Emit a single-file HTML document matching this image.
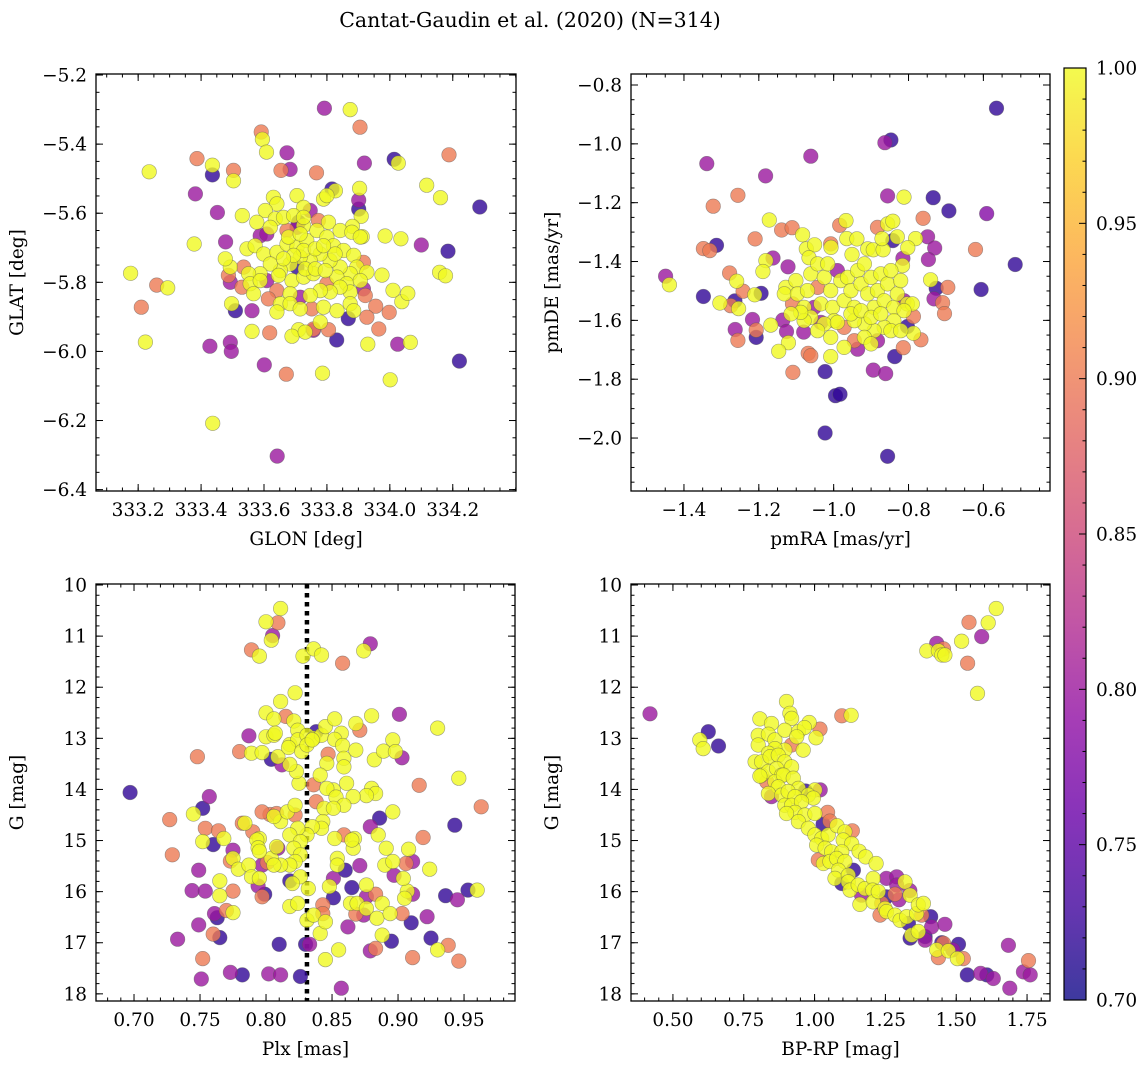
<!DOCTYPE html>
<html><head><meta charset="utf-8"><style>
html,body{margin:0;padding:0;background:#fff;}
svg{display:block;font-family:"DejaVu Serif","Liberation Serif",serif;}
</style></head><body>
<svg id="fig" width="1148" height="1068" viewBox="0 0 1148 1068" xmlns="http://www.w3.org/2000/svg">
<defs>
<linearGradient id="cbgrad" x1="0" y1="1" x2="0" y2="0">
<stop offset="0" stop-color="#0d0887"/><stop offset="0.1" stop-color="#41049d"/><stop offset="0.2" stop-color="#6a00a8"/><stop offset="0.3" stop-color="#8f0da4"/><stop offset="0.4" stop-color="#b12a90"/><stop offset="0.5" stop-color="#cc4778"/><stop offset="0.6" stop-color="#e16462"/><stop offset="0.7" stop-color="#f2844b"/><stop offset="0.8" stop-color="#fca636"/><stop offset="0.9" stop-color="#fcce25"/><stop offset="1" stop-color="#f0f921"/>
</linearGradient>
</defs>
<text x="530" y="27" font-size="20.5" text-anchor="middle">Cantat-Gaudin et al. (2020) (N=314)</text>
</svg>
<script>
// ---------- Panel 1: GLON / GLAT ----------
const glon=[333.792,333.874,333.905,333.591,333.595,333.608,333.673,333.387,333.436,333.436,333.503,333.503,333.235,333.382,333.452,333.531,333.478,333.378,333.176,333.259,333.294,333.210,333.223,333.428,333.493,333.496,333.509,333.497,333.562,333.562,333.618,333.601,333.671,333.786,334.001,333.437,333.642,334.221,334.025,334.065,333.930,333.965,333.831,333.868,333.998,333.955,334.038,334.057,334.010,333.975,334.158,334.177,334.185,334.100,334.035,333.985,334.286,334.161,334.117,334.188,334.014,334.027,333.919,333.767,333.654,333.683,333.904,333.816,333.827,333.901,333.901,333.909,333.912,333.881,
333.630,333.641,333.705,333.726,333.789,333.800,333.604,333.577,333.636,333.662,333.694,333.726,333.747,333.773,333.805,333.842,333.879,333.906,333.673,333.588,333.609,333.620,333.546,333.572,333.599,333.641,333.673,333.705,333.736,333.768,333.800,333.821,333.853,333.885,333.916,333.895,333.927,333.874,333.842,333.810,333.779,333.747,333.715,333.683,333.652,333.620,333.588,333.551,333.535,333.493,333.477,333.487,333.493,333.530,333.556,333.588,333.609,333.646,333.689,333.726,333.757,333.800,333.832,333.863,333.906,333.916,333.922,333.874,333.842,333.810,333.779,333.747,333.715,333.683,333.641,333.614,333.567,333.652,333.683,333.715,333.752,333.789,333.832,333.874,333.885,333.927,333.641,333.779,333.805,333.757,333.710,333.689,333.731,333.757,333.705,333.731,333.763,333.795,333.826,333.726,333.694,333.662,333.763,333.789,333.678,333.715,333.705,333.710,333.726];
const glat=[-5.296,-5.300,-5.351,-5.365,-5.386,-5.423,-5.425,-5.442,-5.461,-5.489,-5.476,-5.506,-5.480,-5.544,-5.598,-5.607,-5.683,-5.689,-5.774,-5.808,-5.816,-5.872,-5.973,-5.985,-5.974,-6.000,-5.882,-5.862,-5.882,-5.942,-5.946,-6.039,-6.066,-6.063,-6.082,-6.208,-6.303,-6.028,-5.979,-5.974,-5.979,-5.935,-5.967,-5.905,-5.887,-5.869,-5.856,-5.832,-5.823,-5.779,-5.771,-5.781,-5.710,-5.692,-5.674,-5.666,-5.582,-5.555,-5.519,-5.431,-5.444,-5.455,-5.455,-5.483,-5.476,-5.473,-5.528,-5.530,-5.535,-5.562,-5.588,-5.609,-5.668,-5.638,
-5.554,-5.573,-5.549,-5.583,-5.559,-5.549,-5.592,-5.626,-5.616,-5.612,-5.607,-5.636,-5.592,-5.621,-5.626,-5.650,-5.655,-5.669,-5.650,-5.665,-5.660,-5.641,-5.703,-5.694,-5.718,-5.713,-5.689,-5.698,-5.679,-5.650,-5.669,-5.694,-5.708,-5.722,-5.742,-5.756,-5.771,-5.775,-5.756,-5.737,-5.718,-5.737,-5.727,-5.747,-5.766,-5.747,-5.775,-5.775,-5.756,-5.756,-5.732,-5.780,-5.800,-5.814,-5.804,-5.795,-5.795,-5.780,-5.795,-5.785,-5.775,-5.804,-5.785,-5.804,-5.795,-5.819,-5.838,-5.828,-5.814,-5.828,-5.824,-5.838,-5.843,-5.833,-5.824,-5.848,-5.833,-5.862,-5.862,-5.877,-5.877,-5.872,-5.882,-5.862,-5.882,-5.901,-5.886,-5.915,-5.937,-5.935,-5.937,-5.956,-5.944,-5.939,-5.756,-5.761,-5.761,-5.766,-5.718,-5.708,-5.722,-5.732,-5.703,-5.694,-5.669,-5.660,-5.641,-5.626,-5.612];
const prob1=[0.8,1,0.9,0.9,1,1,0.8,0.9,1,0.72,0.9,1,1,0.8,0.8,1,0.8,1,1,0.9,1,0.9,1,0.8,0.8,0.8,0.72,1,0.8,1,0.9,0.8,0.9,1,1,1,0.8,0.72,0.8,1,1,0.9,0.72,0.72,0.9,0.9,1,1,1,1,1,1,0.72,0.8,1,1,0.72,1,1,0.9,0.72,1,0.8,0.9,0.9,0.8,1,0.72,1,0.8,0.72,1,1,1,
1,1,1,1,1,1,1,1,1,1,1,1,0.8,0.9,1,1,1,1,0.9,0.8,0.8,1,1,1,1,1,1,1,1,1,1,1,1,1,0.9,1,1,1,1,1,1,1,1,1,1,1,1,1,0.9,1,1,0.9,0.8,0.9,1,1,0.8,1,1,1,1,0.9,1,1,1,0.8,0.9,1,1,1,1,1,0.8,1,0.9,0.9,1,1,1,1,0.9,1,1,1,1,0.9,1,1,0.9,0.9,1,1,1,0.8,0.72,1,1,1,1,1,1,1,1,1,1,1,0.8,0.72,1,0.72];

// ---------- Panel 2: pmRA / pmDE ----------
const pmra=[-0.565,-0.847,-0.863,-1.061,-1.339,-1.182,-1.256,-1.322,-0.856,-0.812,-0.734,-0.692,-0.591,-0.761,-0.621,-0.515,-0.749,-0.730,-0.747,-0.815,-1.449,-1.439,-1.348,-1.313,-1.348,-1.331,-1.278,-1.259,-1.242,-1.210,-1.172,-1.139,-1.111,-1.083,-1.181,-1.162,-1.189,-1.122,-1.304,-1.264,-1.275,-1.254,-1.211,-1.194,-1.217,-1.263,-1.207,-1.207,-1.256,-1.168,-1.136,-1.126,-1.121,-1.147,-1.080,-1.068,-1.061,-1.008,-1.109,-1.023,-0.995,-0.983,-1.023,-0.856,-0.894,-0.861,-0.936,-0.837,-0.814,-0.767,-0.787,-0.787,-0.803,-0.741,-0.726,-0.695,-0.606,-0.732,-0.709,-0.704,-0.781,-0.802,-0.967,-0.984,-0.883,-0.856,-0.842,-0.830,-0.842,-1.008,-1.007,-1.073,-1.051,-1.066,-0.965,-0.938,-0.951,-0.909,-0.894,-0.868,-0.871,-0.816,
-1.128,-1.132,-1.101,-1.097,-1.079,-1.070,-1.061,-1.043,-1.043,-1.034,-1.025,-1.016,-1.008,-1.003,-0.990,-0.981,-0.972,-0.963,-0.954,-0.945,-0.936,-0.927,-0.918,-0.909,-0.900,-0.892,-0.883,-0.874,-0.865,-0.856,-0.847,-0.839,-0.830,-0.821,-0.812,-0.803,-0.790,-0.812,-0.839,-0.865,-0.892,-0.918,-0.945,-0.972,-0.999,-1.025,-1.043,-1.061,-1.079,-1.088,-1.052,-0.954,-0.927,-0.900,-0.874,-0.847,-0.821,-0.918,-0.945,-0.972,-0.900,-0.883,-1.008,-0.990,-1.034,-1.110,-1.114];
const pmde=[-0.879,-0.987,-0.996,-1.042,-1.067,-1.109,-1.175,-1.212,-1.177,-1.181,-1.183,-1.228,-1.237,-1.253,-1.359,-1.410,-1.316,-1.354,-1.393,-1.389,-1.450,-1.479,-1.519,-1.345,-1.356,-1.363,-1.439,-1.467,-1.501,-1.323,-1.259,-1.293,-1.285,-1.309,-1.397,-1.388,-1.434,-1.418,-1.541,-1.534,-1.550,-1.560,-1.513,-1.508,-1.597,-1.631,-1.633,-1.658,-1.668,-1.616,-1.599,-1.638,-1.676,-1.705,-1.640,-1.712,-1.720,-1.723,-1.777,-1.774,-1.856,-1.851,-1.983,-2.062,-1.769,-1.781,-1.698,-1.723,-1.693,-1.666,-1.644,-1.587,-1.621,-1.462,-1.491,-1.488,-1.495,-1.527,-1.540,-1.577,-1.322,-1.353,-1.261,-1.277,-1.284,-1.272,-1.263,-1.316,-1.329,-1.340,-1.352,-1.357,-1.343,-1.387,-1.322,-1.323,-1.376,-1.357,-1.360,-1.360,-1.322,-1.414,
-1.488,-1.510,-1.465,-1.510,-1.556,-1.499,-1.442,-1.408,-1.488,-1.544,-1.454,-1.408,-1.499,-1.556,-1.431,-1.465,-1.533,-1.454,-1.499,-1.556,-1.431,-1.476,-1.408,-1.510,-1.454,-1.556,-1.499,-1.442,-1.533,-1.476,-1.431,-1.556,-1.510,-1.465,-1.533,-1.544,-1.544,-1.567,-1.601,-1.624,-1.635,-1.612,-1.601,-1.624,-1.601,-1.612,-1.635,-1.590,-1.601,-1.573,-1.556,-1.578,-1.567,-1.590,-1.578,-1.635,-1.635,-1.658,-1.669,-1.692,-1.680,-1.669,-1.658,-1.607,-1.607,-1.544,-1.578];
const prob2=[0.72,0.72,0.8,0.8,0.8,0.8,0.9,0.9,0.8,1,0.72,0.72,0.78,0.9,0.9,0.72,0.8,0.8,0.8,0.8,0.8,1,0.72,0.72,0.9,0.9,0.9,1,0.9,0.9,1,0.9,0.9,1,1,0.8,1,0.8,1,0.72,0.9,1,1,0.72,0.8,0.8,0.9,0.72,0.9,1,0.8,0.8,1,1,0.8,0.9,0.9,1,0.9,0.72,0.72,0.72,0.72,0.72,0.8,0.8,0.8,0.72,0.9,0.9,1,0.9,0.72,1,0.72,0.9,0.72,0.8,0.9,0.9,1,1,1,0.9,0.9,1,1,1,0.72,0.9,1,1,1,1,1,1,1,1,1,1,1,1,
1,1,1,1,1,1,1,1,0.9,1,1,1,1,1,0.8,1,1,1,1,1,1,1,1,1,1,1,1,1,1,1,1,1,1,1,0.8,1,1,1,1,1,1,1,1,0.9,1,1,1,1,1,1,0.8,1,1,1,1,1,1,1,0.9,1,1,0.8,1,1,0.8,0.9,1];

// ---------- Panel 3: Plx / G ----------
const plx=[0.697,0.727,0.729,0.748,0.745,0.752,0.757,0.754,0.752,0.760,0.764,0.768,0.749,0.744,0.754,0.765,0.765,0.775,0.775,0.773,0.775,0.779,0.733,0.749,0.760,0.765,0.761,0.763,0.770,0.775,0.752,0.751,0.773,0.782,0.802,0.811,0.826,0.810,0.830,0.833,0.857,0.787,0.780,0.789,0.797,0.804,0.789,0.795,0.805,0.804,0.800,0.809,0.811,0.828,0.836,0.842,0.858,0.879,0.874,0.822,0.811,0.800,0.806,0.815,0.821,0.824,0.800,0.806,0.807,0.818,0.824,0.831,0.838,0.836,0.842,0.845,0.852,0.857,0.852,0.858,0.847,0.859,0.859,0.846,0.841,0.836,0.825,0.823,0.818,0.809,0.812,0.817,0.827,0.831,0.835,0.868,0.868,0.871,0.880,0.882,0.889,0.896,0.898,0.903,0.930,0.901,0.946,0.916,0.963,0.943,0.919,0.886,0.879,0.896,0.880,0.883,0.876,0.866,0.861,0.851,0.846,0.853,0.859,0.838,0.844,0.851,0.843,0.842,0.835,0.831,0.824,0.818,0.826,0.821,0.826,0.822,0.818,0.826,0.818,0.820,0.811,0.804,0.806,0.801,0.797,0.809,0.808,0.811,0.806,0.803,0.797,0.808,0.816,0.822,0.822,0.795,0.793,0.790,0.782,0.784,0.794,0.795,0.787,0.789,0.795,0.794,0.799,0.797,0.818,0.824,0.832,0.831,0.836,0.841,0.845,0.843,0.843,0.851,0.851,0.848,0.845,0.855,0.854,0.854,0.860,0.865,0.871,0.864,0.869,0.876,0.876,0.876,0.883,0.888,0.884,0.888,0.895,0.894,0.903,0.868,0.874,0.862,0.879,0.883,0.911,0.911,0.907,0.905,0.904,0.897,0.910,0.922,0.925,0.930,0.938,0.946,0.936,0.945,0.953,0.960,0.908,0.911,0.906,0.924,0.890,0.885,0.891,0.896,0.867,0.866,0.865,0.859,0.852];
const gmag3=[14.06,14.59,15.28,13.36,14.48,14.37,14.14,14.76,15.02,15.08,14.81,14.96,15.58,15.98,15.99,15.79,16.08,15.99,15.19,15.40,15.35,15.56,16.93,16.65,16.83,16.90,16.43,16.51,16.37,16.41,17.31,17.71,17.58,17.63,17.61,17.63,17.66,17.03,17.03,17.03,17.89,12.95,13.26,13.29,13.28,13.41,11.27,11.39,10.99,11.08,10.72,10.74,10.46,11.39,11.25,11.37,11.53,11.15,11.29,12.11,12.28,12.50,12.62,12.57,12.66,12.84,12.97,12.94,12.90,13.12,13.03,12.94,12.87,13.00,12.94,12.77,12.62,12.90,13.02,13.14,13.31,13.39,13.56,13.49,13.72,13.91,13.88,13.65,13.51,13.36,13.52,13.18,13.26,13.13,13.03,13.23,12.71,12.84,12.56,13.42,13.25,13.03,13.26,13.38,12.80,12.53,13.78,13.92,14.34,14.70,14.94,14.56,14.73,14.44,13.98,14.08,14.12,14.14,13.88,14.01,13.98,14.15,14.31,14.24,14.37,14.37,14.63,14.76,14.73,14.89,14.76,14.89,15.02,15.15,15.28,15.41,15.48,15.71,15.79,15.84,15.48,15.35,15.48,15.43,15.48,15.15,15.12,14.63,14.53,14.49,14.44,14.47,14.44,14.31,14.50,14.96,14.99,14.83,14.66,14.66,15.14,15.21,15.48,15.71,15.74,15.89,16.05,16.10,16.29,16.23,15.94,16.56,16.46,16.82,16.59,16.26,16.43,16.12,15.74,15.90,17.33,17.14,15.35,15.48,15.58,15.92,15.49,16.23,16.23,15.87,16.10,16.33,16.05,16.23,16.52,16.85,16.97,16.43,16.43,16.44,16.46,16.69,17.16,17.11,17.29,16.05,15.99,16.13,15.74,15.68,16.61,16.49,16.91,17.14,17.05,17.36,16.08,16.16,15.97,15.97,15.17,15.41,15.45,15.56,15.48,14.89,15.15,15.41,14.96,15.15,14.99,14.89,14.96];
const prob3=[0.72,0.9,0.9,0.9,1,0.72,0.8,0.9,1,0.72,0.9,1,0.8,0.8,0.8,1,1,0.9,0.8,0.9,1,1,0.8,0.8,0.9,0.72,0.8,0.72,0.9,1,0.9,0.8,0.8,0.72,0.8,0.8,0.72,0.72,0.72,0.8,0.8,0.8,0.9,1,1,0.72,0.9,1,0.8,1,1,0.9,1,1,1,1,0.9,0.8,1,1,1,1,1,0.9,1,1,1,1,1,1,1,1,0.72,1,1,1,1,1,1,1,0.9,1,1,1,1,0.9,1,1,1,1,0.8,1,1,1,1,1,1,0.9,1,1,1,1,1,0.8,1,0.8,1,0.9,0.9,0.72,0.9,0.72,0.8,1,1,1,1,1,1,1,1,1,1,0.9,1,1,1,1,1,1,1,1,1,1,1,1,1,1,0.72,1,1,1,1,0.9,0.8,0.8,1,1,1,0.9,0.9,0.9,1,1,0.9,1,1,0.9,0.9,1,1,1,1,1,1,0.8,0.72,0.9,1,1,1,1,1,1,1,0.9,0.9,0.72,0.8,1,1,1,1,1,0.72,0.72,0.8,1,1,1,0.8,1,0.9,1,1,1,0.72,1,0.9,0.9,0.8,0.8,0.8,0.9,0.9,0.8,1,1,1,0.8,0.72,0.8,0.72,1,0.9,0.9,0.72,0.8,0.72,1,1,0.8,0.9,1,1,1,1,1,1,1,1,0.9,1];

// ---------- Panel 4: BP-RP / G ----------
const bprp=[0.419,0.625,0.595,0.607,0.661,1.396,1.431,1.455,1.437,1.449,1.460,1.519,1.545,1.590,1.613,1.641,1.540,1.575,1.096,1.129,1.019,0.901,0.913,0.919,0.807,0.848,0.801,0.837,0.860,0.895,0.943,0.981,0.964,1.005,0.937,0.919,0.895,0.960,0.860,0.801,0.837,0.790,0.813,0.843,0.872,0.895,0.919,0.813,0.837,0.866,0.884,0.807,0.831,0.860,0.890,0.925,0.943,0.872,0.848,0.837,0.884,0.907,0.931,0.968,1.020,1.001,0.978,0.996,0.895,0.919,0.954,0.931,0.901,0.966,1.001,1.046,1.054,1.030,0.943,0.978,1.001,1.025,1.048,1.079,1.107,1.133,1.101,1.131,1.007,1.037,1.060,1.096,1.157,1.180,1.217,1.013,1.031,1.054,1.078,1.107,1.137,1.084,1.072,1.119,1.096,1.119,1.125,1.154,1.166,1.178,1.207,1.205,1.160,1.207,1.225,1.254,1.254,1.290,1.290,1.284,1.319,1.298,1.336,1.337,1.237,1.231,1.249,1.254,1.284,1.302,1.331,1.325,1.360,1.366,1.384,1.378,1.410,1.413,1.343,1.366,1.337,1.390,1.390,1.460,1.455,1.449,1.437,1.431,1.472,1.508,1.488,1.525,1.504,1.539,1.586,1.608,1.631,1.684,1.689,1.755,1.737,1.761];
const gmag4=[12.52,12.87,13.03,13.20,13.15,11.29,11.14,11.25,11.29,11.37,11.37,11.10,10.73,11.01,10.74,10.46,11.53,12.12,12.56,12.55,12.82,12.28,12.51,12.61,12.62,12.71,12.94,12.92,13.03,12.84,12.87,12.69,12.79,12.99,12.97,13.13,13.23,13.23,13.20,13.13,13.29,13.46,13.46,13.36,13.33,13.46,13.56,13.72,13.65,13.59,13.72,13.74,13.85,13.85,13.72,13.78,13.98,13.95,14.14,14.08,14.11,14.04,14.14,14.03,14.01,14.01,14.11,14.17,14.31,14.31,14.24,14.45,14.47,14.50,14.47,14.45,14.62,14.68,14.63,14.76,14.89,14.96,14.89,14.71,14.83,14.81,14.99,15.06,15.09,15.15,15.22,15.22,15.21,15.32,15.45,15.38,15.45,15.41,15.35,15.41,15.58,15.58,15.74,15.68,15.84,15.81,15.97,15.87,16.07,15.94,15.74,15.97,16.25,16.20,16.00,16.10,15.74,15.71,15.87,16.05,15.81,16.16,15.98,16.07,16.23,16.46,16.33,16.39,16.46,16.56,16.62,16.49,16.43,16.26,16.23,16.46,16.49,16.69,16.85,16.78,16.91,16.95,16.88,16.64,17.01,17.00,17.29,17.14,17.16,17.03,17.14,17.31,17.31,17.63,17.60,17.63,17.70,17.05,17.89,17.35,17.57,17.63];
const prob4=[0.8,0.72,1,1,0.72,1,0.8,0.9,1,1,1,1,0.9,0.8,1,1,0.9,1,0.9,1,0.9,1,1,1,1,1,1,1,1,1,1,1,1,1,1,0.9,1,1,1,1,1,1,1,1,1,1,1,1,1,1,1,1,0.9,1,1,1,1,1,0.8,1,1,1,1,0.72,0.8,1,1,1,1,1,1,1,1,1,1,0.9,0.9,0.72,1,1,1,1,1,1,1,0.9,1,1,1,1,1,1,1,1,1,0.9,1,1,1,1,0.72,1,1,1,0.72,1,1,1,0.8,1,1,1,1,1,1,0.72,0.8,0.8,0.8,0.9,1,0.8,0.8,1,0.9,0.9,1,1,1,1,0.72,1,1,1,1,0.9,0.72,0.8,1,1,0.72,0.8,0.72,0.8,0.9,0.72,0.9,1,1,0.72,0.8,0.9,1,0.72,0.8,0.72,0.8,0.8,0.8,0.9,0.8,0.8];

// ---------- Colorbar ----------
const cbTicks=[0.70,0.75,0.80,0.85,0.90,0.95,1.00];
const vmin=0.70, vmax=1.00;

const NS="http://www.w3.org/2000/svg";
const svg=document.getElementById('fig');
function mk(tag,attrs,parent){const e=document.createElementNS(NS,tag);for(const k in attrs)e.setAttribute(k,attrs[k]);(parent||svg).appendChild(e);return e;}

const plasma=[[13,8,135],[65,4,157],[106,0,168],[143,13,164],[177,42,144],[204,71,120],[225,100,98],[242,132,75],[252,166,54],[252,206,37],[240,249,33]];
function cmap(v){let t=(v-vmin)/(vmax-vmin);t=Math.max(0,Math.min(1,t));const f=t*10;const i=Math.min(9,Math.floor(f));const r=f-i;const a=plasma[i],b=plasma[i+1];return `rgb(${Math.round(a[0]+(b[0]-a[0])*r)},${Math.round(a[1]+(b[1]-a[1])*r)},${Math.round(a[2]+(b[2]-a[2])*r)})`;}

const FS=18.5;
function panel(o){
  const g=mk('g',{});
  
  
  const L=o.box[0],T=o.box[1],R=o.box[2],B=o.box[3];
  const sx=v=>L+(v-o.xr[0])/(o.xr[1]-o.xr[0])*(R-L);
  const sy=o.yinv?(v=>T+(v-o.yr[0])/(o.yr[1]-o.yr[0])*(B-T)):(v=>B-(v-o.yr[0])/(o.yr[1]-o.yr[0])*(B-T));
  const clip='clip-'+o.name;
  const cp=mk('clipPath',{id:clip},g);mk('rect',{x:L,y:T,width:R-L,height:B-T},cp);
  const pg=mk('g',{'clip-path':`url(#${clip})`},g);
  if(o.vline!==undefined){
    const ln=mk('line',{x1:sx(o.vline),x2:sx(o.vline),y1:T,y2:B,stroke:'#000','stroke-width':4.5,'stroke-dasharray':'4.5,4.5'},pg);
    
    
  }
  const idx=o.xs.map((_,i)=>i).sort((a,b)=>o.ps[a]-o.ps[b]);
  idx.forEach(i=>{
    const c=mk('circle',{cx:sx(o.xs[i]).toFixed(1),cy:sy(o.ys[i]).toFixed(1),r:7.3,fill:cmap(o.ps[i]),'fill-opacity':0.8,stroke:'#555','stroke-opacity':0.55,'stroke-width':0.6},pg);
    
    
  });
  const fr=mk('rect',{x:L,y:T,width:R-L,height:B-T,fill:'none',stroke:'#000','stroke-width':1.3},g);
  
  
  const eps=1e-9;
  function ticksX(vals,len){vals.forEach(v=>{if(v<o.xr[0]-eps||v>o.xr[1]+eps)return;const x=sx(v);mk('line',{x1:x,x2:x,y1:B,y2:B-len,stroke:'#000','stroke-width':1},g);mk('line',{x1:x,x2:x,y1:T,y2:T+len,stroke:'#000','stroke-width':1},g);});}
  function ticksY(vals,len){vals.forEach(v=>{const lo=Math.min(o.yr[0],o.yr[1]),hi=Math.max(o.yr[0],o.yr[1]);if(v<lo-eps||v>hi+eps)return;const y=sy(v);mk('line',{x1:L,x2:L+len,y1:y,y2:y,stroke:'#000','stroke-width':1},g);mk('line',{x1:R,x2:R-len,y1:y,y2:y,stroke:'#000','stroke-width':1},g);});}
  const minor=(r,s)=>{const a=[];const lo=Math.min(r[0],r[1]),hi=Math.max(r[0],r[1]);for(let v=Math.ceil(lo/s-eps)*s;v<=hi+eps;v+=s)a.push(+v.toFixed(6));return a;};
  ticksX(minor(o.xr,o.xminor),3.5);ticksY(minor(o.yr,o.yminor),3.5);
  ticksX(o.xticks,7);ticksY(o.yticks,7);
  o.xticks.forEach((v,i)=>{const t=mk('text',{x:sx(v),y:B+25,'font-size':FS,'text-anchor':'middle'},g);t.textContent=o.xlabs[i];});
  o.yticks.forEach((v,i)=>{const t=mk('text',{x:L-9,y:sy(v)+6.5,'font-size':FS,'text-anchor':'end'},g);t.textContent=o.ylabs[i];});
  const xl=mk('text',{x:(L+R)/2,y:B+54,'font-size':FS,'text-anchor':'middle'},g);xl.textContent=o.xlabel;
  
  
  const yx=L-73,yy=(T+B)/2;
  const yl=mk('text',{x:yx,y:yy,'font-size':FS,'text-anchor':'middle',transform:`rotate(-90 ${yx} ${yy})`},g);yl.textContent=o.ylabel;
  
  
}

panel({name:'glon-glat-panel',box:[96,74,516,491],xr:[333.066,334.401],yr:[-6.404,-5.197],xs:glon,ys:glat,ps:prob1,
 xticks:[333.2,333.4,333.6,333.8,334.0,334.2],xlabs:['333.2','333.4','333.6','333.8','334.0','334.2'],
 yticks:[-6.4,-6.2,-6.0,-5.8,-5.6,-5.4,-5.2],ylabs:['\u22126.4','\u22126.2','\u22126.0','\u22125.8','\u22125.6','\u22125.4','\u22125.2'],
 xminor:0.05,yminor:0.05,xlabel:'GLON [deg]',ylabel:'GLAT [deg]'});
panel({name:'pmra-pmde-panel',box:[631,74,1050,491],xr:[-1.5415,-0.422],yr:[-2.180,-0.7626],xs:pmra,ys:pmde,ps:prob2,
 xticks:[-1.4,-1.2,-1.0,-0.8,-0.6],xlabs:['\u22121.4','\u22121.2','\u22121.0','\u22120.8','\u22120.6'],
 yticks:[-2.0,-1.8,-1.6,-1.4,-1.2,-1.0,-0.8],ylabs:['\u22122.0','\u22121.8','\u22121.6','\u22121.4','\u22121.2','\u22121.0','\u22120.8'],
 xminor:0.05,yminor:0.05,xlabel:'pmRA [mas/yr]',ylabel:'pmDE [mas/yr]'});
panel({name:'plx-g-panel',box:[96,584,515,1001],xr:[0.6712,0.9886],yr:[9.98,18.14],yinv:true,xs:plx,ys:gmag3,ps:prob3,vline:0.831,
 xticks:[0.70,0.75,0.80,0.85,0.90,0.95],xlabs:['0.70','0.75','0.80','0.85','0.90','0.95'],
 yticks:[10,11,12,13,14,15,16,17,18],ylabs:['10','11','12','13','14','15','16','17','18'],
 xminor:0.01,yminor:0.2,xlabel:'Plx [mas]',ylabel:'G [mag]'});
panel({name:'cmd-panel',box:[631,584,1050,1001],xr:[0.352,1.831],yr:[9.98,18.14],yinv:true,xs:bprp,ys:gmag4,ps:prob4,
 xticks:[0.50,0.75,1.00,1.25,1.50,1.75],xlabs:['0.50','0.75','1.00','1.25','1.50','1.75'],
 yticks:[10,11,12,13,14,15,16,17,18],ylabs:['10','11','12','13','14','15','16','17','18'],
 xminor:0.05,yminor:0.2,xlabel:'BP-RP [mag]',ylabel:'G [mag]'});

(function(){
  const L=1064,R=1086,T=68,B=1000;
  const g=mk('g',{});
  
  
  mk('rect',{x:L,y:T,width:R-L,height:B-T,fill:'url(#cbgrad)','fill-opacity':0.8},g);
  mk('rect',{x:L,y:T,width:R-L,height:B-T,fill:'none',stroke:'#000','stroke-width':1.2},g);
  const sy=v=>B-(v-vmin)/(vmax-vmin)*(B-T);
  for(let k=0;k<=30;k++){const v=vmin+k*0.01;const y=sy(v);const major=(k%5===0);mk('line',{x1:R,x2:R-(major?7:3.5),y1:y,y2:y,stroke:'#000','stroke-width':1},g);}
  cbTicks.forEach(v=>{const t=mk('text',{x:R+10,y:sy(v)+6.5,'font-size':FS},g);t.textContent=v.toFixed(2);});
})();
</script>
</body></html>
